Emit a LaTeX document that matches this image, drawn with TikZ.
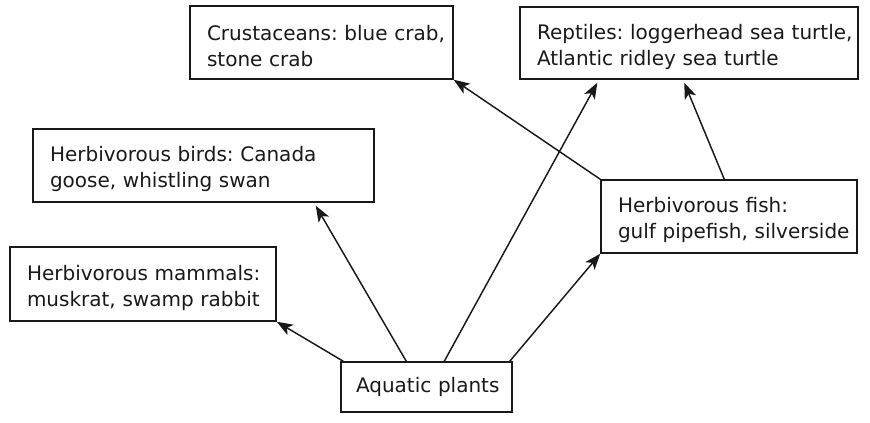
\documentclass[tikz,border=0pt]{standalone}
\usepackage{fontspec}
\setmainfont{DejaVu Sans}
\usetikzlibrary{calc,arrows.meta}
\frenchspacing
\newcommand{\boxline}[1]{\mbox{#1}}
\newcommand{\topstrut}{\rule{0pt}{17pt}}
\begin{document}
\begin{tikzpicture}[x=0.75pt,y=0.75pt,
  box/.style={draw=black!90, line width=1.1pt, rectangle, align=left, inner ysep=0pt, inner xsep=12.75pt,
    font=\fontsize{15pt}{19.5pt}\selectfont, text=black!90, anchor=center},
  arr/.style={line width=1.1pt, draw=black!90, -{Stealth[length=12pt,width=9pt,inset=3pt]}}]
\useasboundingbox (0,0) rectangle (870,423);
\node[box, text width=171.75pt, minimum height=54.75pt] (crus) at (321.5,380.5) {\topstrut\boxline{Crustaceans: blue crab,}\\\boxline{stone crab}};
\node[box, text width=228pt, minimum height=54pt] (rept) at (689,380) {\topstrut\boxline{Reptiles: loggerhead sea turtle,}\\\boxline{Atlantic ridley sea turtle}};
\node[box, text width=230.25pt, minimum height=54.75pt] (birds) at (203.5,257.5) {\topstrut\boxline{Herbivorous birds: Canada}\\\boxline{goose, whistling swan}};
\node[box, text width=174pt, minimum height=55.5pt] (mamm) at (143,139) {\topstrut\boxline{Herbivorous mammals:}\\\boxline{muskrat, swamp rabbit}};
\node[box, text width=166.5pt, minimum height=54.75pt] (fish) at (729,206.5) {\topstrut\boxline{Herbivorous fish:}\\\boxline{gulf pipefish, silverside}};
\node[box, inner xsep=11.25pt, text width=105.75pt, minimum height=37.5pt] (plants) at (426.5,36) {\boxline{Aquatic plants}};
\draw[arr] ($(plants.north west)+(3,0)$) -- (mamm.south east);
\draw[arr] ($(plants.north west)+(66,0)$) -- ($(birds.south east)+(-59,-3)$);
\draw[arr] ($(plants.north west)+(104,0)$) -- ($(rept.south west)+(78,-3)$);
\draw[arr] ($(plants.north east)+(-3,0)$) -- (fish.south west);
\draw[arr] (fish.north west) -- (crus.south east);
\draw[arr] ($(fish.north west)+(124,0)$) -- ($(rept.south west)+(165,-3)$);
\end{tikzpicture}
\end{document}
